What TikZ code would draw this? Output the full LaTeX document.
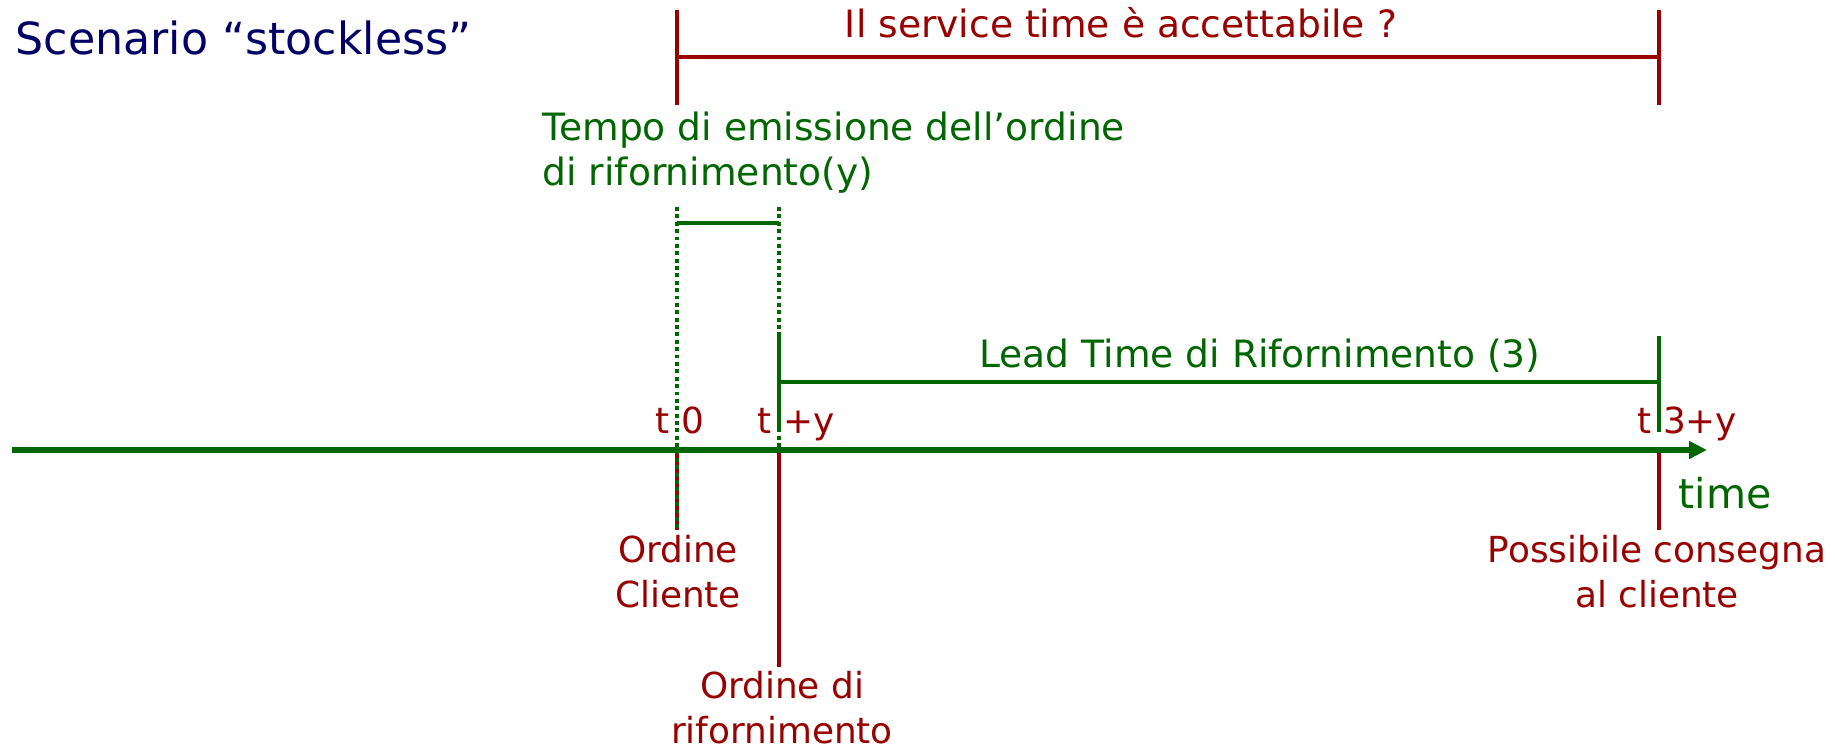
\documentclass[tikz,border=0pt]{standalone}
\usepackage{fontspec}
\setmainfont{DejaVu Sans}
\usetikzlibrary{arrows.meta}
\definecolor{rosso}{RGB}{153,0,0}
\definecolor{verde}{RGB}{0,102,0}
\definecolor{blunotte}{RGB}{0,0,102}

\begin{document}
\begin{tikzpicture}[
    font=\fontsize{10.2}{12.8}\selectfont,
    asse/.style={verde, line width=1.45pt, -{Triangle[length=0.18cm,width=0.17cm]}},
    segno/.style={line width=1.1pt},
    punti/.style={verde, line width=1.25pt, dash pattern=on 1.1pt off 1pt},
    etich/.style={rosso, inner sep=0pt, align=center},
    tlab/.style={rosso, inner sep=0pt, anchor=base west},
    testov/.style={font=\fontsize{10.7}{12.8}\selectfont, inner sep=0pt}
]
  \useasboundingbox (0,0) rectangle (18.35,7.5);

  % ===== punti sull'asse e livelli =====
  \coordinate (inizio) at (0.12,3);
  \coordinate (fine) at (17.07,3);
  \coordinate (t0) at (6.77,3);
  \coordinate (ty) at (7.79,3);
  \coordinate (t3) at (16.59,3);
  \coordinate (askTop) at (0,7.40);
  \coordinate (askMid) at (0,6.93);
  \coordinate (askBot) at (0,6.45);
  \coordinate (emTop) at (0,5.43);
  \coordinate (emMid) at (0,5.27);
  \coordinate (ltTop) at (0,4.14);
  \coordinate (ltMid) at (0,3.68);
  \coordinate (ltBot) at (0,3.18);
  \coordinate (corto) at (0,2.20);
  \coordinate (lungo) at (0,0.83);

  % ===== linee rosse sotto l'asse =====
  \draw[segno, rosso] (t0) -- (t0 |- corto);
  \draw[segno, rosso] (ty) -- (ty |- lungo);
  \draw[segno, rosso] (t3) -- (t3 |- corto);
  \draw[asse] (inizio) -- (fine);

  % ===== tempo di emissione (y) =====
  \draw[punti] (t0 |- emTop) -- (t0 |- corto);
  \draw[punti] (ty |- emTop) -- (ty);
  \draw[segno, verde] (t0 |- emMid) -- (ty |- emMid);

  % ===== lead time =====
  \draw[segno, verde] (ty |- ltTop) -- (ty |- ltBot);
  \draw[segno, verde] (t3 |- ltTop) -- (t3 |- ltBot);
  \draw[segno, verde] (ty |- ltMid) -- (t3 |- ltMid);

  % ===== service time =====
  \draw[segno, rosso] (t0 |- askTop) -- (t0 |- askBot);
  \draw[segno, rosso] (t3 |- askTop) -- (t3 |- askBot);
  \draw[segno, rosso] (t0 |- askMid) -- (t3 |- askMid);

  % ===== testi =====
  \node[blunotte, font=\fontsize{12.6}{15}\selectfont, inner sep=0pt, anchor=base west] (titolo) at (0.15,6.95) {Scenario “stockless”};
  \node[testov, rosso, anchor=base] (domanda) at (11.21,7.12) {Il service time è accettabile ?};
  \node[testov, verde, align=left, anchor=north west] (emissione) at (5.42,6.39) {Tempo di emissione dell’ordine\\di rifornimento(y)};
  \node[testov, verde, anchor=base] (lead) at (12.60,3.83) {Lead Time di Rifornimento (3)};
  \node[tlab] (lt0) at (6.55,3.17) {t 0};
  \node[tlab] (lty) at (7.57,3.17) {t +y};
  \node[tlab] (lt3) at (16.37,3.17) {t 3+y};
  \node[verde, font=\fontsize{11.7}{14}\selectfont, inner sep=0pt, anchor=base west] (tempo) at (16.78,2.42) {time};
  \node[etich, anchor=north] (cliente) at (6.78,2.15) {Ordine\\Cliente};
  \node[etich, anchor=north] (rifornim) at (7.82,0.79) {Ordine di\\rifornimento};
  \node[etich, anchor=north] (consegna) at (16.57,2.15) {Possibile consegna\\al cliente};
\end{tikzpicture}
\end{document}
